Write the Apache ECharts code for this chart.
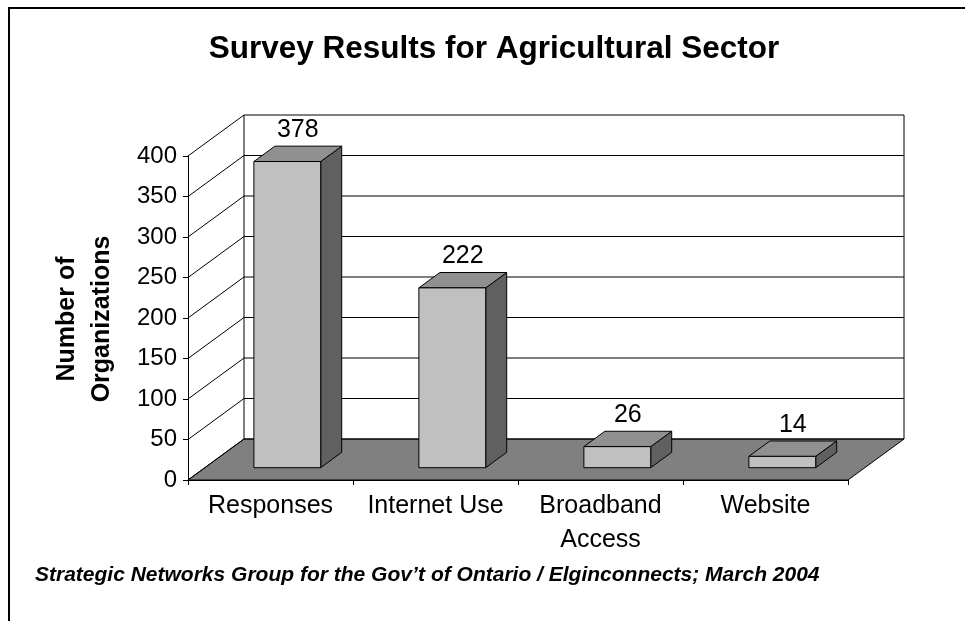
<!DOCTYPE html>
<html>
<head>
<meta charset="utf-8">
<title>Survey Results for Agricultural Sector</title>
<script src="https://cdn.jsdelivr.net/npm/echarts@6/dist/echarts.min.js"></script>
<style>
  html, body { margin: 0; padding: 0; background: #fff; }
  #chart { width: 965px; height: 621px; }
</style>
</head>
<body>
<div id="chart"></div>
<script>
// Survey counts by category
const categories = ['Responses', 'Internet Use', 'Broadband\nAccess', 'Website'];
const organizations = [378, 222, 26, 14];
const yTicks = [0, 50, 100, 150, 200, 250, 300, 350, 400];

const FONT = '"Liberation Sans", Arial, Helvetica, sans-serif';

// Pseudo-3D depth of the plot box (back wall offset from the front plane)
const DX = 56, DY = 41;
// Bars sit between these fractions of the depth
const F0 = 0.30, F1 = 0.675;
const BAR_FRAC = 0.405;

const chart = echarts.init(document.getElementById('chart'), null, { renderer: 'canvas' });

// Floor, back wall and left wall gridlines, one item per y tick
function renderWalls(params, api) {
  const cs = params.coordSys;
  const t = api.value(1);
  const y = api.coord([0, t])[1];
  const x0 = cs.x, x1 = cs.x + cs.width;
  const children = [];
  const line = { stroke: '#000', lineWidth: 1 };
  if (params.dataIndex === 0) {
    children.push({
      type: 'polygon',
      shape: { points: [[x0, y], [x1, y], [x1 + DX, y - DY], [x0 + DX, y - DY]] },
      style: { fill: '#808080', stroke: '#000', lineWidth: 1 }
    });
    const yTop = api.coord([0, yTicks[yTicks.length - 1]])[1];
    children.push({ type: 'line', shape: { x1: x0 + DX, y1: y - DY, x2: x0 + DX, y2: yTop - DY }, style: line });
    children.push({ type: 'line', shape: { x1: x1 + DX, y1: y - DY, x2: x1 + DX, y2: yTop - DY }, style: line });
  }
  children.push({ type: 'line', shape: { x1: x0 + DX, y1: y - DY, x2: x1 + DX, y2: y - DY }, style: line });
  children.push({ type: 'line', shape: { x1: x0, y1: y, x2: x0 + DX, y2: y - DY }, style: line });
  return { type: 'group', children };
}

// A 3D column: front face, right side, top, with its value above it
function renderBar(params, api) {
  const i = api.value(0);
  const v = api.value(1);
  const base = api.coord([i, 0]);
  const top = api.coord([i, v]);
  const w = api.size([1, 0])[0] * BAR_FRAC;
  const xl = base[0] - w / 2, xr = base[0] + w / 2;
  const fx = DX * F0, fy = -DY * F0;
  const bx = DX * F1, by = -DY * F1;
  const edge = { stroke: '#000', lineWidth: 1, lineJoin: 'round' };
  return {
    type: 'group',
    children: [
      {
        type: 'polygon',
        shape: { points: [[xr + fx, top[1] + fy], [xr + bx, top[1] + by], [xr + bx, base[1] + by], [xr + fx, base[1] + fy]] },
        style: Object.assign({ fill: '#606060' }, edge)
      },
      {
        type: 'polygon',
        shape: { points: [[xl + fx, top[1] + fy], [xl + bx, top[1] + by], [xr + bx, top[1] + by], [xr + fx, top[1] + fy]] },
        style: Object.assign({ fill: '#909090' }, edge)
      },
      {
        type: 'rect',
        shape: { x: xl + fx, y: top[1] + fy, width: w, height: base[1] - top[1] },
        style: Object.assign({ fill: '#C0C0C0' }, edge)
      },
      {
        type: 'text',
        x: (xl + xr) / 2 + (fx + bx) / 2,
        y: top[1] + by - 16,
        style: {
          text: String(v),
          fill: '#000',
          font: '25px ' + FONT,
          align: 'center',
          verticalAlign: 'middle'
        }
      }
    ]
  };
}

chart.setOption({
  animation: false,
  backgroundColor: '#fff',
  textStyle: { fontFamily: FONT },
  grid: { left: 188, top: 156, width: 660, height: 324, containLabel: false },
  xAxis: {
    type: 'category',
    data: categories,
    boundaryGap: true,
    axisLine: { show: true, lineStyle: { color: '#000', width: 1 } },
    axisTick: { show: true, length: 5, lineStyle: { color: '#000' } },
    axisLabel: { interval: 0, color: '#000', fontSize: 25, lineHeight: 34, margin: 9, fontFamily: FONT },
    splitLine: { show: false },
    z: 10
  },
  yAxis: {
    type: 'value',
    min: 0,
    max: 400,
    interval: 50,
    axisLine: { show: true, lineStyle: { color: '#000', width: 1 } },
    axisTick: { show: true, length: 5, lineStyle: { color: '#000' } },
    axisLabel: { color: '#000', fontSize: 24, margin: 11, fontFamily: FONT },
    splitLine: { show: false },
    z: 10
  },
  graphic: [
    {
      type: 'rect',
      shape: { x: 9, y: 8, width: 1100, height: 1000 },
      style: { fill: 'none', stroke: '#000', lineWidth: 2 },
      silent: true,
      z: -10
    },
    {
      type: 'text',
      x: 494,
      y: 49,
      style: {
        text: 'Survey Results for Agricultural Sector',
        font: 'bold 31.5px ' + FONT,
        fill: '#000',
        align: 'center',
        verticalAlign: 'middle'
      }
    },
    {
      type: 'text',
      x: 85,
      y: 319,
      rotation: Math.PI / 2,
      style: {
        text: 'Number of\nOrganizations',
        font: 'bold 25px ' + FONT,
        lineHeight: 35,
        fill: '#000',
        align: 'center',
        verticalAlign: 'middle'
      }
    },
    {
      type: 'text',
      x: 35,
      y: 575,
      style: {
        text: 'Strategic Networks Group for the Gov\u2019t of Ontario / Elginconnects; March 2004',
        font: 'italic bold 21px ' + FONT,
        fill: '#000',
        align: 'left',
        verticalAlign: 'middle'
      }
    }
  ],
  series: [
    {
      type: 'custom',
      name: 'walls',
      renderItem: renderWalls,
      data: yTicks.map(t => [0, t]),
      silent: true,
      z: 1
    },
    {
      type: 'custom',
      name: 'Number of Organizations',
      renderItem: renderBar,
      data: organizations.map((v, i) => [i, v]),
      encode: { x: 0, y: 1 },
      z: 5
    }
  ]
});
</script>
</body>
</html>
